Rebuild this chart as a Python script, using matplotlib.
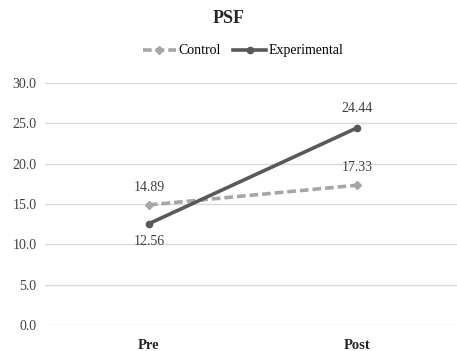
import matplotlib.pyplot as plt

# PSF scores, pre vs post
phases = ["Pre", "Post"]
control = [14.89, 17.33]
experimental = [12.56, 24.44]
y_ticks = [0, 5, 10, 15, 20, 25, 30]

plt.rcParams['font.family'] = ['Liberation Serif', 'DejaVu Serif']

fig = plt.figure(figsize=(4.57, 3.51), dpi=100)
ax = fig.add_axes([0.098, 0.074, 0.902, 0.6895])

x = list(range(len(phases)))
ax.plot(x, control, color='#A6A6A6', linestyle=(0, (2.4, 1.1)), linewidth=2.6,
        marker='D', markersize=4, label='Control', zorder=3)
ax.plot(x, experimental, color='#595959', linewidth=2.6,
        marker='o', markersize=4.5, label='Experimental', zorder=4)

# value labels
lbl = dict(textcoords='offset points', ha='center', fontsize=10, color='#404040')
ax.annotate(f"{control[0]:.2f}", (x[0], control[0]), xytext=(0, 8), va='bottom', **lbl)
ax.annotate(f"{control[1]:.2f}", (x[1], control[1]), xytext=(0, 8), va='bottom', **lbl)
ax.annotate(f"{experimental[0]:.2f}", (x[0], experimental[0]), xytext=(0, -8), va='top', **lbl)
ax.annotate(f"{experimental[1]:.2f}", (x[1], experimental[1]), xytext=(0, 9), va='bottom', **lbl)

ax.set_xlim(-0.5, 1.48)
ax.set_ylim(0, 30)
ax.set_yticks(y_ticks)
ax.set_yticklabels([f"{v:.1f}" for v in y_ticks], fontsize=10, color='#404040')
ax.set_xticks(x)
ax.set_xticklabels(phases, fontsize=10.5, fontweight='bold', color='#262626')
ax.tick_params(length=0, pad=6)
ax.tick_params(axis='x', pad=10)
ax.grid(axis='y', color='#D9D9D9', linewidth=1)
ax.set_axisbelow(True)
for s in ax.spines.values():
    s.set_visible(False)

fig.text(0.5, 0.946, "PSF", ha='center', va='center', fontsize=13, fontweight='bold', color='#262626')
fig.legend(loc='center', bbox_to_anchor=(0.532, 0.855), ncol=2, frameon=False, fontsize=10,
           handlelength=2.4, columnspacing=0.9, handletextpad=0.15)

fig.savefig('out.png', dpi=100)
